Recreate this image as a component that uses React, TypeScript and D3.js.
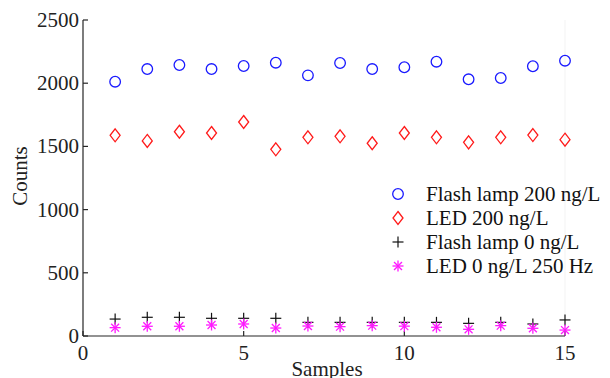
import React from "react";
import * as d3 from "d3";

const samples = [1, 2, 3, 4, 5, 6, 7, 8, 9, 10, 11, 12, 13, 14, 15];
const flashLamp200 = [2012, 2112, 2144, 2112, 2136, 2162, 2062, 2160, 2112, 2126, 2170, 2031, 2041, 2134, 2178];
const led200 = [1588, 1543, 1616, 1606, 1693, 1477, 1572, 1580, 1525, 1606, 1572, 1532, 1572, 1590, 1553];
const flashLamp0 = [134, 148, 148, 140, 140, 140, 108, 108, 108, 108, 108, 100, 108, 95, 127];
const led0 = [66, 77, 77, 87, 95, 63, 79, 74, 82, 78, 69, 53, 82, 61, 47];

const xTicks = [0, 5, 10, 15];
const yTicks = [0, 500, 1000, 1500, 2000, 2500];
const legendLabels = ["Flash lamp 200 ng/L", "LED 200 ng/L", "Flash lamp 0 ng/L", "LED 0 ng/L 250 Hz"];

const W = 610;
const H = 378;
const FONT = "'Liberation Serif', 'Times New Roman', serif";

type MarkerKind = "circle" | "diamond" | "plus" | "star";

function Marker({ kind, x, y }: { kind: MarkerKind; x: number; y: number }) {
  if (kind === "circle") {
    return <circle cx={x} cy={y} r={5.3} fill="none" stroke="#1a1aff" strokeWidth={1.3} />;
  }
  if (kind === "diamond") {
    const path = d3.path();
    path.moveTo(x, y - 6.5);
    path.lineTo(x + 5, y);
    path.lineTo(x, y + 6.5);
    path.lineTo(x - 5, y);
    path.closePath();
    return <path d={path.toString()} fill="none" stroke="#ff1a1a" strokeWidth={1.3} />;
  }
  if (kind === "plus") {
    const s = 5.5;
    return (
      <g stroke="#111" strokeWidth={1.2}>
        <line x1={x - s} y1={y} x2={x + s} y2={y} />
        <line x1={x} y1={y - s} x2={x} y2={y + s} />
      </g>
    );
  }
  const s = 5.5;
  const d = s * 0.72;
  return (
    <g stroke="#ff1aff" strokeWidth={1.3}>
      <line x1={x - s} y1={y} x2={x + s} y2={y} />
      <line x1={x} y1={y - s} x2={x} y2={y + s} />
      <line x1={x - d} y1={y - d} x2={x + d} y2={y + d} />
      <line x1={x - d} y1={y + d} x2={x + d} y2={y - d} />
    </g>
  );
}

export default function App() {
  const x = d3.scaleLinear().domain([0, 15]).range([83, 565]);
  const y = d3.scaleLinear().domain([0, 2500]).range([336, 20]);

  const series: { kind: MarkerKind; values: number[] }[] = [
    { kind: "circle", values: flashLamp200 },
    { kind: "diamond", values: led200 },
    { kind: "plus", values: flashLamp0 },
    { kind: "star", values: led0 },
  ];

  const axisColor = "#262626";
  const tickLen = 5;

  return (
    <svg
      width={W}
      height={H}
      style={{ position: "absolute", left: 0, top: 0, background: "#fff" }}
      fontFamily={FONT}
    >
      <rect x={0} y={0} width={W} height={H} fill="#fff" />
      {/* faint right edge */}
      <line x1={x(15)} y1={y(2500)} x2={x(15)} y2={y(0)} stroke="#f3f3f3" strokeWidth={1} />

      {/* axes */}
      <line x1={x(0)} y1={y(0)} x2={x(15)} y2={y(0)} stroke={axisColor} strokeWidth={1.2} />
      <line x1={x(0)} y1={y(0)} x2={x(0)} y2={y(2500)} stroke={axisColor} strokeWidth={1.2} />

      {xTicks.map((t) => (
        <g key={"xt" + t}>
          <line x1={x(t)} y1={y(0)} x2={x(t)} y2={y(0) - tickLen} stroke={axisColor} strokeWidth={1.2} />
          <text x={x(t)} y={360} textAnchor="middle" fontSize={21} fill="#222">
            {t}
          </text>
        </g>
      ))}
      {yTicks.map((t) => (
        <g key={"yt" + t}>
          <line x1={x(0)} y1={y(t)} x2={x(0) + tickLen} y2={y(t)} stroke={axisColor} strokeWidth={1.2} />
          <text x={79} y={y(t) + 7} textAnchor="end" fontSize={21} fill="#222">
            {t}
          </text>
        </g>
      ))}

      <text x={327} y={376} textAnchor="middle" fontSize={21} fill="#222">
        Samples
      </text>
      <text transform="translate(27,176) rotate(-90)" textAnchor="middle" fontSize={21} fill="#222">
        Counts
      </text>

      {series.map((s) =>
        s.values.map((v, i) => <Marker key={s.kind + i} kind={s.kind} x={x(samples[i])} y={y(v)} />)
      )}

      {/* legend */}
      {legendLabels.map((label, i) => {
        const ly = 194 + i * 24;
        return (
          <g key={label}>
            <Marker kind={series[i].kind} x={398} y={ly} />
            <text x={426} y={ly + 7} fontSize={21} fill="#111">
              {label}
            </text>
          </g>
        );
      })}
    </svg>
  );
}
